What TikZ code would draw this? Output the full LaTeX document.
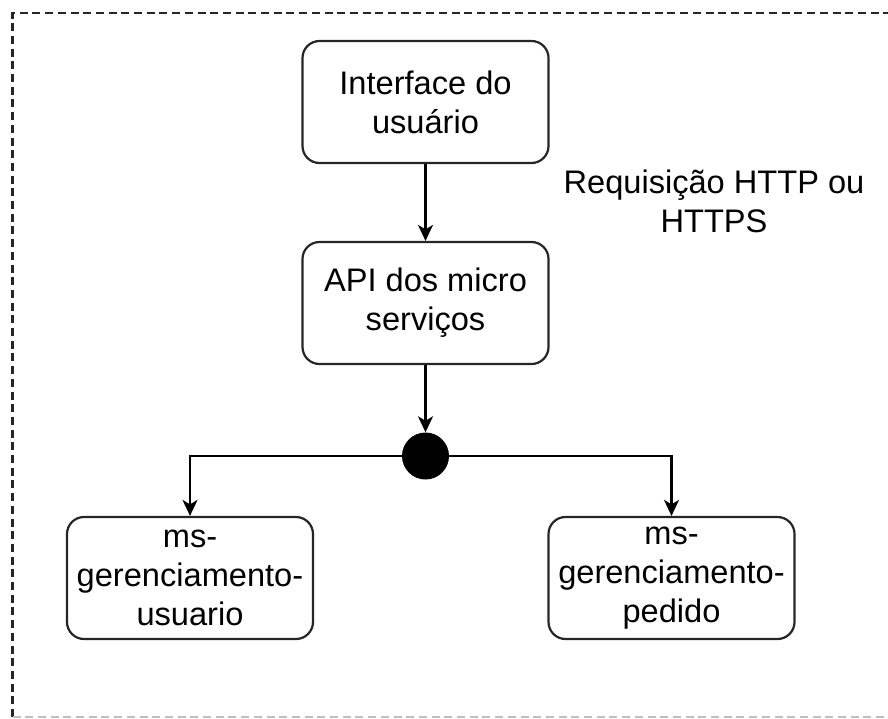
\documentclass[tikz,border=0pt]{standalone}
\usepackage{fontspec}
\setmainfont{Liberation Sans}
\usetikzlibrary{arrows.meta}
\begin{document}
\begin{tikzpicture}[x=1pt,y=-1pt,
  box/.style={draw=black!85, line width=2.2pt, rounded corners=17pt,
    minimum width=246pt, minimum height=122pt, inner sep=0pt,
    align=center, font=\fontsize{32.6pt}{39pt}\selectfont},
  link/.style={line width=2.2pt, -{Stealth[length=16pt,width=15pt,inset=4.5pt]}},
  label/.style={align=center, font=\fontsize{32.6pt}{39pt}\selectfont},
  frame/.style={line width=2.4pt, dash pattern=on 8pt off 4.7pt}]
  \useasboundingbox (0,0) rectangle (888,718);
  % dashed frame around the whole diagram (its right side lies past the edge)
  \coordinate (ftl) at (12.5,13);
  \coordinate (ftr) at (900,13);
  \coordinate (fbl) at (12.5,717);
  \coordinate (fbr) at (900,717);
  \begin{scope}
    \clip (0,0) rectangle (888,718);
    \draw[frame, black!85] (fbl) -- (ftl) -- (ftr);
    \draw[frame, black!25, line width=1.4pt] (fbl) -- (fbr);
  \end{scope}

  \node[box] (ui) at (425.5,102) {Interface do\\usuário};
  \node[box] (api) at (425.5,303) {API dos micro\\serviços};
  \node[circle, fill=black, minimum size=47pt, inner sep=0pt] (hub) at (425.5,456) {};
  \node[box] (msu) at (190,578) {ms-\\gerenciamento-\\usuario};
  \node[box] (msp) at (671.5,578) {ms-\\gerenciamento-\\pedido};
  \node[label] (req) at (714,201) {Requisição HTTP ou\\HTTPS};

  \draw[link] (ui) -- (api);
  \draw[link] (api) -- (hub);
  \draw[link] (hub.west) -| (msu.north);
  \draw[link] (hub.east) -| (msp.north);
\end{tikzpicture}
\end{document}
